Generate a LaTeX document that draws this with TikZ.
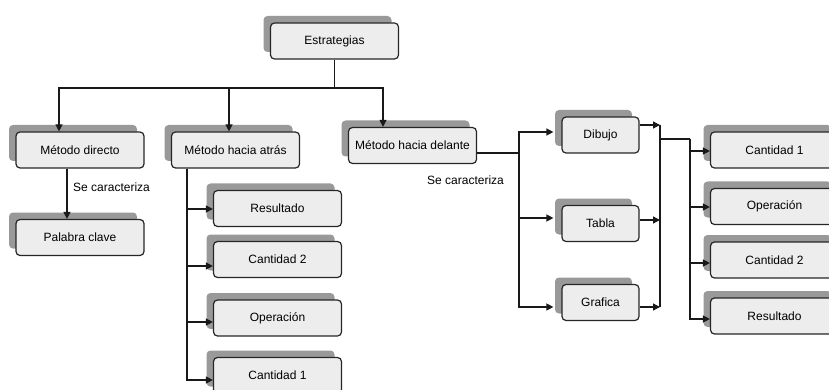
\documentclass[tikz,border=0pt]{standalone}
\usepackage{fontspec}
\setmainfont{Liberation Sans}
\usetikzlibrary{arrows.meta,shadows}
\begin{document}
\begin{tikzpicture}[x=1pt,y=-1pt,
  box/.style={draw=black!85,fill=black!7,rounded corners=4pt,line width=1.2pt,
    minimum width=128pt,minimum height=36pt,inner sep=0pt,
    font=\fontsize{12}{14}\selectfont,
    drop shadow={shadow xshift=-7pt,shadow yshift=7pt,fill=black!40,opacity=1}},
  sbox/.style={box,minimum width=77pt},
  conn/.style={draw=black!90,line width=1.3pt},
  arr/.style={conn,-{Triangle[length=7pt,width=7pt]}},
  lbl/.style={font=\fontsize{12}{14}\selectfont,inner sep=0pt,anchor=west}]
\useasboundingbox (0,0) rectangle (829,390);
\clip (0,0) rectangle (829,390);
% nodes
\node[box] (e) at (334.5,41) {Estrategias};
\node[box] (md) at (80,150) {Método directo};
\node[box] (ma) at (235.5,150) {Método hacia atrás};
\node[box] (mf) at (412.5,145.5) {Método hacia delante};
\node[box] (pc) at (80,237.5) {Palabra clave};
\node[box] (ar) at (277.5,208.5) {Resultado};
\node[box] (ac2) at (277.5,259.5) {Cantidad 2};
\node[box] (ao) at (277.5,318) {Operación};
\node[box] (ac1) at (277.5,375.5) {Cantidad 1};
\node[sbox] (db) at (600.5,135) {Dibujo};
\node[sbox] (tb) at (600.5,223.5) {Tabla};
\node[sbox] (gr) at (600.5,302.5) {Grafica};
\node[box] (rc1) at (774.5,150) {Cantidad 1};
\node[box] (ro) at (774.5,206.5) {Operación};
\node[box] (rc2) at (774.5,260) {Cantidad 2};
\node[box] (rr) at (774.5,316) {Resultado};
% labels
\node[lbl] (l1) at (73,187) {Se caracteriza};
\node[lbl] (l2) at (427,180) {Se caracteriza};
% top connectors
\coordinate (jt) at (334.5,88);
\draw[conn] (e.south) -- (jt);
\draw[arr] (jt) -| ([xshift=-21pt]md.north);
\draw[arr] (jt) -| ([xshift=-6.5pt]ma.north);
\draw[arr] (jt) -| ([xshift=-29.5pt]mf.north);
% metodo directo
\draw[arr] ([xshift=-13pt]md.south) -- ([xshift=-13pt]pc.north);
% metodo hacia atras
\draw[arr] ([xshift=-48.5pt]ma.south) |- ([yshift=-0.5pt]ar.west);
\draw[arr] ([xshift=-48.5pt]ma.south) |- ([yshift=-6.5pt]ac2.west);
\draw[arr] ([xshift=-48.5pt]ma.south) |- ([yshift=-4pt]ao.west);
\draw[arr] ([xshift=-48.5pt]ma.south) |- ([yshift=-4.5pt]ac1.west);
% metodo hacia delante
\coordinate (jf) at (519,153);
\draw[conn] ([yshift=-7.5pt]mf.east) -- (jf);
\draw[arr] (jf) |- ([xshift=-8pt,yshift=3pt]db.west);
\draw[arr] (jf) |- ([xshift=-8pt,yshift=5.5pt]tb.west);
\draw[arr] (jf) |- ([xshift=-8pt,yshift=-4.5pt]gr.west);
% merge
\coordinate (ja) at (660,125);
\coordinate (jb) at (660,220);
\coordinate (jc) at (660,307);
\coordinate (jm) at (660,139);
\coordinate (jn) at (690,139);
\draw[conn] (ja) -- (jc);
\draw[arr] ([yshift=10pt]db.east) -- (ja);
\draw[arr] ([yshift=3.5pt]tb.east) -- (jb);
\draw[arr] ([yshift=-4.5pt]gr.east) -- (jc);
\draw[conn] (jm) -- (jn);
\draw[arr] (jn) |- ([yshift=-1pt]rc1.west);
\draw[arr] (jn) |- ([yshift=-0.5pt]ro.west);
\draw[arr] (jn) |- ([yshift=-3pt]rc2.west);
\draw[arr] (jn) |- ([yshift=-3pt]rr.west);
\end{tikzpicture}
\end{document}
